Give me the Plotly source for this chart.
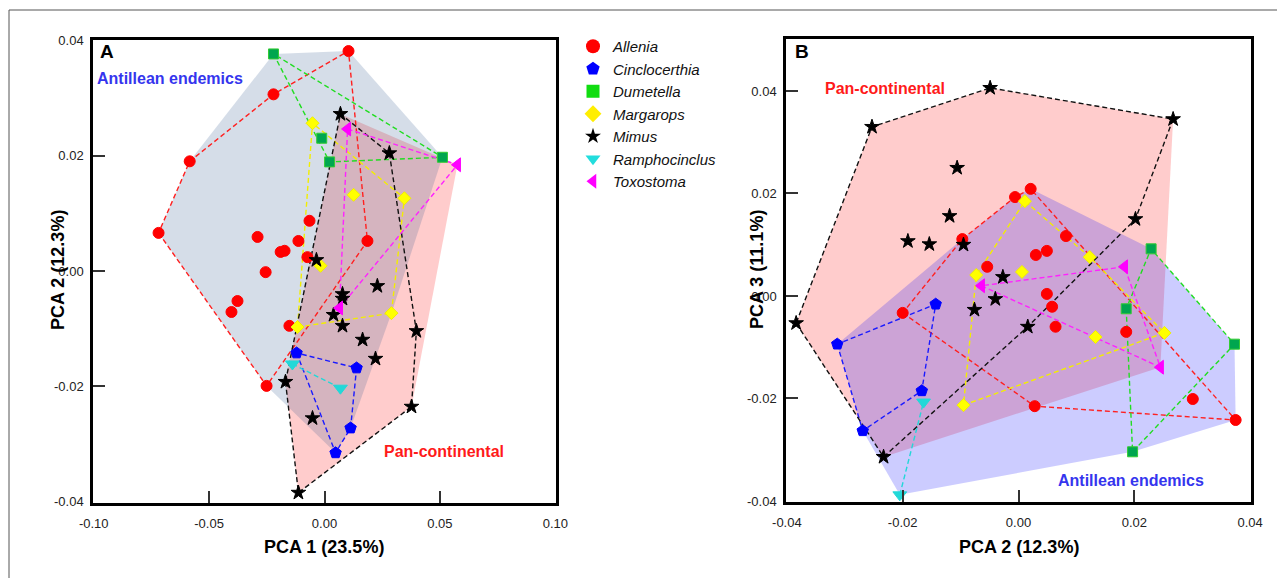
import plotly.graph_objects as go

W, H = 1277, 578

genera = ["Allenia", "Cinclocerthia", "Dumetella", "Margarops", "Mimus", "Ramphocinclus", "Toxostoma"]
antillean_group = ["Allenia", "Cinclocerthia", "Dumetella", "Margarops", "Ramphocinclus"]
pancontinental_group = ["Mimus", "Toxostoma"]

# ---------------- Panel A : PCA 1 vs PCA 2 ----------------
a_allenia_pc1 = [0.0104, -0.0221, -0.0584, -0.0719, -0.0065, -0.0290, -0.0190, -0.0173, -0.0113, -0.0074,
                 -0.0255, -0.0377, -0.0403, -0.0152, -0.0251, 0.0186]
a_allenia_pc2 = [0.0381, 0.0306, 0.0190, 0.0066, 0.0087, 0.0059, 0.0033, 0.0035, 0.0052, 0.0024,
                 -0.0002, -0.0052, -0.0071, -0.0095, -0.0199, 0.0052]
a_cinclo_pc1 = [-0.0121, 0.0139, 0.0113, 0.0048]
a_cinclo_pc2 = [-0.0142, -0.0168, -0.0272, -0.0315]
a_dumet_pc1 = [-0.0221, -0.0012, 0.0022, 0.0511]
a_dumet_pc2 = [0.0376, 0.0230, 0.0189, 0.0197]
a_margar_pc1 = [-0.0052, 0.0126, 0.0346, -0.0017, 0.0290, -0.0117]
a_margar_pc2 = [0.0256, 0.0132, 0.0126, 0.0009, -0.0073, -0.0097]
a_mimus_pc1 = [0.0069, 0.0281, -0.0035, 0.0229, 0.0078, 0.0078, 0.0039, 0.0078, 0.0165, 0.0221,
               0.0398, 0.0377, -0.0052, -0.0169, -0.0113]
a_mimus_pc2 = [0.0272, 0.0204, 0.0019, -0.0026, -0.0040, -0.0048, -0.0076, -0.0095, -0.0119, -0.0152,
               -0.0104, -0.0235, -0.0255, -0.0192, -0.0384]
a_rampho_pc1 = [-0.0139, 0.0069]
a_rampho_pc2 = [-0.0161, -0.0203]
a_toxo_pc1 = [0.0100, 0.0576, 0.0065]
a_toxo_pc2 = [0.0246, 0.0184, -0.0064]

# ---------------- Panel B : PCA 2 vs PCA 3 ----------------
b_allenia_pc2 = [-0.0006, 0.0021, -0.0097, -0.0054, 0.0082, 0.0030, 0.0049, 0.0049, 0.0058, 0.0064,
                 0.0186, 0.0301, 0.0375, 0.0028, -0.0200]
b_allenia_pc3 = [0.0193, 0.0209, 0.0111, 0.0057, 0.0117, 0.0080, 0.0088, 0.0004, -0.0021, -0.0060,
                 -0.0070, -0.0201, -0.0242, -0.0215, -0.0033]
b_cinclo_pc2 = [-0.0143, -0.0313, -0.0167, -0.0269]
b_cinclo_pc3 = [-0.0016, -0.0094, -0.0185, -0.0263]
b_dumet_pc2 = [0.0229, 0.0186, 0.0373, 0.0197]
b_dumet_pc3 = [0.0092, -0.0025, -0.0094, -0.0304]
b_margar_pc2 = [0.0011, 0.0123, 0.0006, -0.0073, 0.0133, 0.0252, -0.0095]
b_margar_pc3 = [0.0185, 0.0076, 0.0047, 0.0041, -0.0080, -0.0072, -0.0213]
b_mimus_pc2 = [-0.0049, -0.0253, 0.0267, -0.0106, -0.0119, -0.0191, -0.0154, -0.0095, 0.0202, -0.0384,
               -0.0233, -0.0027, -0.0040, -0.0076, 0.0016]
b_mimus_pc3 = [0.0406, 0.0330, 0.0345, 0.0250, 0.0156, 0.0107, 0.0101, 0.0100, 0.0150, -0.0053,
               -0.0314, 0.0037, -0.0006, -0.0027, -0.0060]
b_rampho_pc2 = [-0.0164, -0.0205]
b_rampho_pc3 = [-0.0207, -0.0388]
b_toxo_pc2 = [0.0183, -0.0064, 0.0245]
b_toxo_pc3 = [0.0057, 0.0020, -0.0139]

x_ticks_a = [-0.10, -0.05, 0.00, 0.05, 0.10]
x_ticktext_a = ["-0.10", "-0.05", "0.00", "0.05", "0.10"]
y_ticks = [-0.04, -0.02, 0.00, 0.02, 0.04]
y_ticktext = ["-0.04", "-0.02", "0.00", "0.02", "0.04"]

panel_a = {
    "Allenia": (a_allenia_pc1, a_allenia_pc2),
    "Cinclocerthia": (a_cinclo_pc1, a_cinclo_pc2),
    "Dumetella": (a_dumet_pc1, a_dumet_pc2),
    "Margarops": (a_margar_pc1, a_margar_pc2),
    "Mimus": (a_mimus_pc1, a_mimus_pc2),
    "Ramphocinclus": (a_rampho_pc1, a_rampho_pc2),
    "Toxostoma": (a_toxo_pc1, a_toxo_pc2),
}
panel_b = {
    "Allenia": (b_allenia_pc2, b_allenia_pc3),
    "Cinclocerthia": (b_cinclo_pc2, b_cinclo_pc3),
    "Dumetella": (b_dumet_pc2, b_dumet_pc3),
    "Margarops": (b_margar_pc2, b_margar_pc3),
    "Mimus": (b_mimus_pc2, b_mimus_pc3),
    "Ramphocinclus": (b_rampho_pc2, b_rampho_pc3),
    "Toxostoma": (b_toxo_pc2, b_toxo_pc3),
}

style = {
    "Allenia": dict(symbol="circle", size=11, lsize=14, color="#ff0000", line="#ff0000", dash="#ff2020", legend="#ff0000"),
    "Cinclocerthia": dict(symbol="pentagon", size=12, lsize=14, color="#0000ff", line="#0000ff", dash="#1a1aff", legend="#0000ff"),
    "Dumetella": dict(symbol="square", size=10, lsize=13, color="#00a64f", line="#33cc33", dash="#22dd22", legend="#11dd11"),
    "Margarops": dict(symbol="diamond", size=10, lsize=13, color="#ffff00", line="#eeee00", dash="#f2ee00", legend="#ffee00"),
    "Mimus": dict(symbol="star", size=11, lsize=12, color="#000000", line="#000000", dash="#111111", legend="#000000"),
    "Ramphocinclus": dict(symbol="triangle-down", size=12, lsize=13, color="#22d8d8", line="#22d8d8", dash="#22d8d8", legend="#22dddd"),
    "Toxostoma": dict(symbol="triangle-left", size=12, lsize=13, color="#ff00ff", line="#ff00ff", dash="#ff22ff", legend="#ff00ff"),
}


def convex_hull(xs, ys):
    pts = sorted(set(zip(xs, ys)))
    if len(pts) <= 2:
        return pts

    def cross(o, a, b):
        return (a[0] - o[0]) * (b[1] - o[1]) - (a[1] - o[1]) * (b[0] - o[0])

    lower, upper = [], []
    for p in pts:
        while len(lower) >= 2 and cross(lower[-2], lower[-1], p) <= 0:
            lower.pop()
        lower.append(p)
    for p in reversed(pts):
        while len(upper) >= 2 and cross(upper[-2], upper[-1], p) <= 0:
            upper.pop()
        upper.append(p)
    return lower[:-1] + upper[:-1]


fig = go.Figure()


def add_panel(data, xa, ya, antillean_fill):
    # group hulls (shaded)
    for group, fill in ((pancontinental_group, "rgba(255,0,0,0.2)"), (antillean_group, antillean_fill)):
        gx, gy = [], []
        for g in group:
            gx += list(data[g][0])
            gy += list(data[g][1])
        h = convex_hull(gx, gy)
        fig.add_trace(go.Scatter(x=[p[0] for p in h] + [h[0][0]], y=[p[1] for p in h] + [h[0][1]],
                                 mode="lines", fill="toself", fillcolor=fill, line=dict(width=0),
                                 hoverinfo="skip", showlegend=False, xaxis=xa, yaxis=ya))
    # genus hulls (dashed)
    for g in genera:
        h = convex_hull(*data[g])
        hx = [p[0] for p in h]
        hy = [p[1] for p in h]
        if len(h) > 2:
            hx.append(hx[0])
            hy.append(hy[0])
        fig.add_trace(go.Scatter(x=hx, y=hy, mode="lines",
                                 line=dict(color=style[g]["dash"], width=1.4, dash="5px,3px"),
                                 hoverinfo="skip", showlegend=False, xaxis=xa, yaxis=ya))
    # points
    for g in genera:
        s = style[g]
        fig.add_trace(go.Scatter(x=data[g][0], y=data[g][1], mode="markers", name=g,
                                 marker=dict(symbol=s["symbol"], size=s["size"], color=s["color"],
                                             line=dict(color=s["line"], width=1)),
                                 showlegend=False, xaxis=xa, yaxis=ya))


add_panel(panel_a, "x", "y", "rgba(45,85,140,0.2)")
add_panel(panel_b, "x2", "y2", "rgba(0,0,255,0.2)")

# legend entries
for g in genera:
    s = style[g]
    fig.add_trace(go.Scatter(x=[None], y=[None], mode="markers", name="<i>" + g + "</i>",
                             marker=dict(symbol=s["symbol"], size=s["lsize"], color=s["legend"],
                                         line=dict(color=s["legend"], width=0)),
                             showlegend=True, xaxis="x", yaxis="y"))

axis_common = dict(showline=True, linewidth=2.5, linecolor="black", mirror=True,
                   ticks="inside", ticklen=12, tickwidth=1.5, tickcolor="#333333",
                   showgrid=False, zeroline=False, automargin=False,
                   tickfont=dict(family="Liberation Sans, Arial, sans-serif", size=13, color="#222222"))

fig.update_layout(
    width=W, height=H, margin=dict(l=0, r=0, t=0, b=0, autoexpand=False),
    paper_bgcolor="white", plot_bgcolor="white",
    font=dict(family="Liberation Sans, Arial, sans-serif", color="black"),
    xaxis=dict(domain=[93 / W, 556 / W], range=[-0.1003, 0.1003], tickvals=x_ticks_a, ticktext=x_ticktext_a,
               ticklabelstandoff=7, anchor="y", **axis_common),
    yaxis=dict(domain=[(H - 502.5) / H, (H - 39.5) / H], range=[-0.0401, 0.0401], tickvals=y_ticks,
               ticktext=y_ticktext, ticklabelstandoff=4, anchor="x", **axis_common),
    xaxis2=dict(domain=[786 / W, 1251 / W], range=[-0.04015, 0.04015], tickvals=y_ticks, ticktext=y_ticktext,
                ticklabelstandoff=7, anchor="y2", **axis_common),
    yaxis2=dict(domain=[(H - 501.5) / H, (H - 38.7) / H], range=[-0.0401, 0.0502], tickvals=y_ticks,
                ticktext=y_ticktext, ticklabelstandoff=4, anchor="x2", **axis_common),
    legend=dict(x=573 / W, y=1 - 30 / H, xanchor="left", yanchor="top", bgcolor="rgba(0,0,0,0)",
                font=dict(family="Liberation Sans, Arial, sans-serif", size=15, color="#111111"),
                tracegroupgap=0, itemwidth=30),
    showlegend=True,
)

ann = []


def txt(text, x, y, size, color="black", xanchor="center", angle=0):
    ann.append(dict(text=text, x=x / W, y=1 - y / H, xref="paper", yref="paper", showarrow=False,
                    xanchor=xanchor, yanchor="middle", textangle=angle,
                    font=dict(family="Liberation Sans, Arial, sans-serif", size=size, color=color)))


txt("<b>A</b>", 98, 51.5, 19, xanchor="left")
txt("<b>B</b>", 793, 51.5, 19, xanchor="left")
txt("<b>Antillean endemics</b>", 95, 79, 16, color="#3535ee", xanchor="left")
txt("<b>Pan-continental</b>", 444, 451.5, 16, color="#ff1a1a")
txt("<b>Pan-continental</b>", 885, 88, 16, color="#ff1a1a")
txt("<b>Antillean endemics</b>", 1130.5, 480.5, 16, color="#3535ee")
txt("<b>PCA 1 (23.5%)</b>", 324, 547, 18)
txt("<b>PCA 2 (12.3%)</b>", 58, 270, 18, angle=-90)
txt("<b>PCA 2 (12.3%)</b>", 1019, 547, 18)
txt("<b>PCA 3 (11.1%)</b>", 757, 270, 18, angle=-90)
fig.update_layout(annotations=ann)

fig.update_layout(shapes=[
    dict(type="line", xref="paper", yref="paper", x0=9 / W, x1=1, y0=1 - 10 / H, y1=1 - 10 / H,
         line=dict(color="#555555", width=1)),
    dict(type="line", xref="paper", yref="paper", x0=9 / W, x1=9 / W, y0=1 - 10 / H, y1=0,
         line=dict(color="#555555", width=1)),
])

fig.write_html("out.html")
